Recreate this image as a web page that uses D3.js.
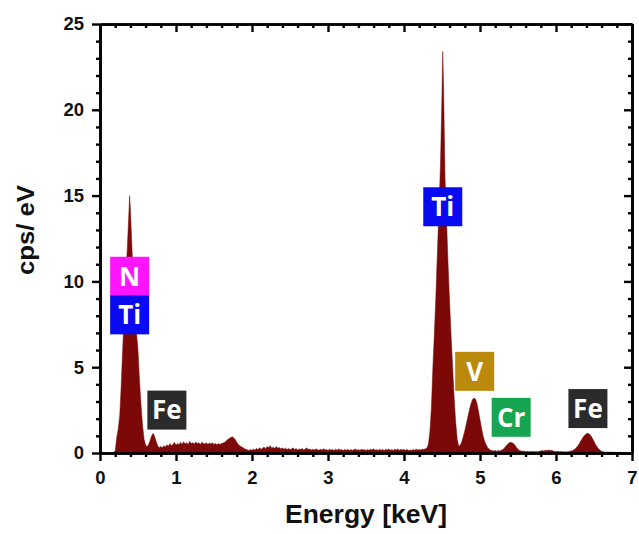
<!DOCTYPE html>
<html><head><meta charset="utf-8">
<script src="https://cdn.jsdelivr.net/npm/d3@7"></script>
<style>body{margin:0;background:#fff}svg{display:block}</style>
</head><body>
<script>
// Energy axis (keV) and counts (cps/eV)
const energy = [0.16,0.20,0.22,0.24,0.26,0.28,0.30,0.32,0.34,0.36,0.38,0.39,0.40,0.42,0.44,0.46,0.48,0.50,0.52,0.54,0.56,0.58,
0.60,0.62,0.64,0.66,0.68,0.70,0.72,0.74,0.76,0.78,0.80,0.82,0.84,0.86,0.88,0.90,0.92,0.94,0.96,0.98,
1.00,1.02,1.04,1.06,1.08,1.10,1.12,1.14,1.16,1.18,1.20,1.22,1.24,1.26,1.28,1.30,1.32,1.34,1.36,1.38,
1.40,1.42,1.44,1.46,1.48,1.50,1.52,1.54,1.56,1.58,1.60,1.62,1.64,1.66,1.68,1.70,1.72,1.74,1.76,1.78,
1.80,1.82,1.84,1.86,1.88,1.90,1.92,1.94,1.96,1.98,2.00,2.02,2.04,2.06,2.08,2.10,2.12,2.14,2.16,2.18,
2.20,2.22,2.24,2.26,2.28,2.30,2.32,2.34,2.36,2.38,2.40,2.42,2.44,2.46,2.48,2.50,2.52,2.54,2.56,2.58,
2.60,2.62,2.64,2.66,2.68,2.70,2.72,2.74,2.76,2.78,2.80,2.82,2.84,2.86,2.88,2.90,2.92,2.94,2.96,2.98,
3.00,3.02,3.04,3.06,3.08,3.10,3.12,3.14,3.16,3.18,3.20,3.22,3.24,3.26,3.28,3.30,3.32,3.34,3.36,3.38,
3.40,3.42,3.44,3.46,3.48,3.50,3.52,3.54,3.56,3.58,3.60,3.62,3.64,3.66,3.68,3.70,3.72,3.74,3.76,3.78,
3.80,3.82,3.84,3.86,3.88,3.90,3.92,3.94,3.96,3.98,4.00,4.02,4.04,4.06,4.08,4.10,4.12,4.14,4.16,4.18,
4.20,4.22,4.24,4.26,4.28,4.30,4.32,4.34,4.36,4.38,4.40,4.42,4.44,4.46,4.48,4.50,4.51,4.52,4.54,4.56,
4.58,4.60,4.62,4.64,4.66,4.68,4.70,4.72,4.74,4.76,4.78,4.80,4.82,4.84,4.86,4.88,4.90,4.92,4.94,4.96,
4.98,5.00,5.02,5.04,5.06,5.08,5.10,5.12,5.14,5.16,5.18,5.20,5.22,5.24,5.26,5.28,5.30,5.32,5.34,5.36,
5.38,5.40,5.42,5.44,5.46,5.48,5.50,5.52,5.54,5.56,5.58,5.60,5.62,5.64,5.66,5.68,5.70,5.72,5.74,5.76,
5.78,5.80,5.82,5.84,5.86,5.88,5.90,5.92,5.94,5.96,5.98,6.00,6.02,6.04,6.06,6.08,6.10,6.12,6.14,6.16,
6.18,6.20,6.22,6.24,6.26,6.28,6.30,6.32,6.34,6.36,6.38,6.40,6.42,6.44,6.46,6.48,6.50,6.52,6.54,6.56,
6.58,6.60,6.62,6.64,6.70,6.80,6.90,6.98,7.00];
const cps = [0,0.1,0.9,1.4,2.2,4.0,6.2,8.2,10.2,12.0,14.0,15.0,14.2,12.0,10.0,8.5,7.0,6.0,4.2,2.8,1.6,0.8,
0.45,0.38,0.5,0.75,1.0,1.15,0.95,0.65,0.42,0.3,0.38,0.3,0.42,0.35,0.48,0.4,0.55,0.42,0.5,0.62,
0.45,0.55,0.48,0.62,0.5,0.66,0.52,0.6,0.5,0.68,0.55,0.6,0.52,0.64,0.55,0.6,0.5,0.62,0.56,0.52,
0.6,0.5,0.58,0.52,0.6,0.5,0.55,0.48,0.56,0.5,0.55,0.58,0.62,0.7,0.78,0.85,0.9,0.95,0.88,0.78,
0.62,0.5,0.42,0.36,0.32,0.25,0.22,0.18,0.15,0.2,0.16,0.22,0.18,0.26,0.2,0.3,0.22,0.28,0.35,0.24,
0.38,0.3,0.42,0.28,0.34,0.26,0.38,0.28,0.32,0.24,0.3,0.22,0.28,0.2,0.26,0.2,0.24,0.3,0.2,0.26,
0.18,0.24,0.2,0.26,0.18,0.22,0.3,0.2,0.24,0.18,0.22,0.17,0.24,0.2,0.16,0.22,0.18,0.25,0.18,0.2,
0.15,0.22,0.17,0.2,0.14,0.22,0.16,0.24,0.17,0.2,0.14,0.2,0.16,0.22,0.15,0.2,0.14,0.19,0.24,0.16,
0.2,0.15,0.22,0.17,0.2,0.14,0.2,0.16,0.22,0.17,0.25,0.16,0.2,0.15,0.22,0.16,0.2,0.14,0.22,0.17,
0.24,0.16,0.2,0.15,0.22,0.18,0.24,0.16,0.22,0.18,0.2,0.16,0.2,0.15,0.18,0.14,0.2,0.16,0.22,0.17,
0.2,0.18,0.22,0.2,0.25,0.28,0.5,1.2,2.6,5.0,7.0,9.2,11.8,14.2,16.8,21.0,23.4,21.5,16.0,13.5,
11.0,8.8,6.8,5.0,3.2,1.8,0.8,0.4,0.45,0.65,0.95,1.3,1.7,2.1,2.5,2.85,3.1,3.2,3.15,2.9,
2.45,1.95,1.45,1.0,0.7,0.48,0.32,0.22,0.16,0.14,0.12,0.15,0.1,0.14,0.12,0.16,0.2,0.28,0.4,0.5,
0.58,0.62,0.6,0.55,0.45,0.32,0.22,0.15,0.12,0.1,0.12,0.08,0.1,0.07,0.1,0.08,0.1,0.07,0.09,0.07,
0.1,0.12,0.14,0.12,0.16,0.14,0.18,0.14,0.16,0.12,0.1,0.08,0.1,0.07,0.09,0.07,0.08,0.06,0.08,0.07,
0.1,0.12,0.15,0.2,0.28,0.38,0.5,0.65,0.8,0.95,1.05,1.12,1.15,1.1,1.0,0.85,0.68,0.5,0.36,0.25,
0.16,0.1,0.08,0.06,0.05,0.04,0.03,0.02,0];

const xMajor = [0,1,2,3,4,5,6,7];
const yMajor = [0,5,10,15,20,25];

const elemLabels = ["N","Ti","Fe","Ti","V","Cr","Fe"];
const elemColors = ["#ff14ff","#0a0af0","#2b2b2b","#0a0af0","#bb8a0c","#16a651","#2b2b2b"];
const elemX = [0.39,0.39,0.88,4.51,4.93,5.41,6.42];   // centre, keV
const elemY = [10.3,8.05,2.5,14.35,4.76,2.08,2.59];   // centre, cps/eV

const W = 639, H = 534;
const m = {left:100, right:7, top:24, bottom:81};
const svg = d3.select("body").append("svg").attr("width",W).attr("height",H);

const x = d3.scaleLinear().domain([0,7]).range([m.left, W-m.right]);
const y = d3.scaleLinear().domain([0,25]).range([H-m.bottom, m.top]);

const data = energy.map((e,i)=>[e,cps[i]]);
const area = d3.area().x(d=>x(d[0])).y0(y(0)).y1(d=>y(d[1]));
svg.append("path").datum(data).attr("d",area).attr("fill","#7c0808").attr("stroke","#7c0808").attr("stroke-width",0.5);

const xMinor = d3.range(0,7.0001,0.2).filter(v=>Math.abs(v-Math.round(v))>1e-6);
const yMinor = d3.range(0,25.0001,1).filter(v=>v%5!==0);

const font = "'Liberation Sans', Arial, sans-serif";
function styleAxis(g){
  g.selectAll(".domain").attr("stroke","#000").attr("stroke-width",2.6);
  g.selectAll(".tick line").attr("stroke","#000").attr("stroke-width",2.4);
  g.selectAll("text").attr("font-family",font).attr("font-weight","bold").attr("font-size",18.5).attr("fill","#111");
}
const bY = H-m.bottom, rX = W-m.right;
// bottom
svg.append("g").attr("transform",`translate(0,${bY})`).call(d3.axisBottom(x).tickValues(xMinor).tickSize(4).tickSizeOuter(0).tickFormat("")).call(styleAxis);
svg.append("g").attr("transform",`translate(0,${bY})`).call(d3.axisBottom(x).tickValues(xMajor).tickSize(8).tickSizeOuter(0).tickPadding(10).tickFormat(d3.format("d"))).call(styleAxis);
// top
svg.append("g").attr("transform",`translate(0,${m.top})`).call(d3.axisTop(x).tickValues(xMinor).tickSize(-4).tickSizeOuter(0).tickFormat("")).call(styleAxis);
svg.append("g").attr("transform",`translate(0,${m.top})`).call(d3.axisTop(x).tickValues(xMajor).tickSize(-8).tickSizeOuter(0).tickFormat("")).call(styleAxis);
// left
svg.append("g").attr("transform",`translate(${m.left},0)`).call(d3.axisLeft(y).tickValues(yMinor).tickSize(4).tickSizeOuter(0).tickFormat("")).call(styleAxis);
svg.append("g").attr("transform",`translate(${m.left},0)`).call(d3.axisLeft(y).tickValues(yMajor).tickSize(8).tickSizeOuter(0).tickPadding(8).tickFormat(d3.format("d"))).call(styleAxis);
// right
svg.append("g").attr("transform",`translate(${rX},0)`).call(d3.axisRight(y).tickValues(yMinor).tickSize(-4).tickSizeOuter(0).tickFormat("")).call(styleAxis);
svg.append("g").attr("transform",`translate(${rX},0)`).call(d3.axisRight(y).tickValues(yMajor).tickSize(-8).tickSizeOuter(0).tickFormat("")).call(styleAxis);

// titles
svg.append("text").attr("x",366).attr("y",523).attr("text-anchor","middle")
  .attr("font-family",font).attr("font-weight","bold").attr("font-size",25).attr("fill","#111")
  .attr("textLength",162).attr("lengthAdjust","spacingAndGlyphs").text("Energy [keV]");
svg.append("text").attr("transform","translate(34,230) rotate(-90)").attr("text-anchor","middle")
  .attr("font-family",font).attr("font-weight","bold").attr("font-size",24).attr("fill","#111")
  .attr("textLength",90).attr("lengthAdjust","spacingAndGlyphs").text("cps/ eV");

// element tags
const bs = 39;
const tags = svg.append("g").selectAll("g").data(elemLabels.map((t,i)=>({t,c:elemColors[i],e:elemX[i],v:elemY[i]})))
  .join("g").attr("transform",d=>`translate(${x(d.e)},${y(d.v)})`);
tags.append("rect").attr("x",-bs/2).attr("y",-bs/2).attr("width",bs).attr("height",bs).attr("fill",d=>d.c);
tags.append("text").attr("text-anchor","middle").attr("dy","0.36em")
  .attr("font-family","'Open Sans', 'Noto Sans', sans-serif").attr("font-weight","bold").attr("font-size",26)
  .attr("fill","#fff").text(d=>d.t);
</script>
</body></html>
